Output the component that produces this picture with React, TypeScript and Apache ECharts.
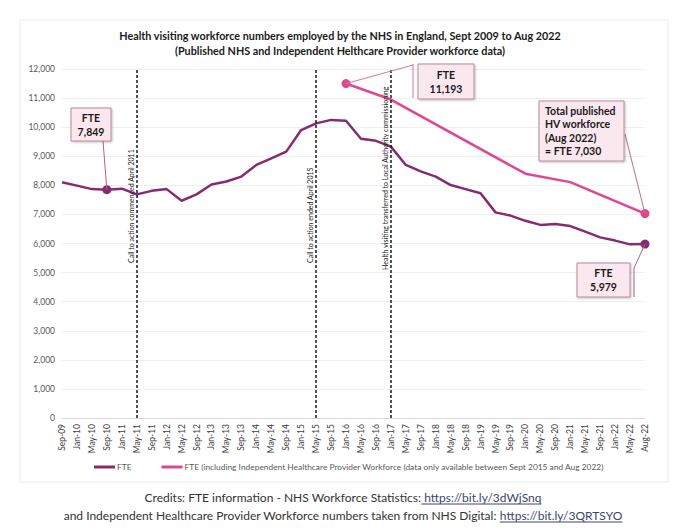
import React, { useEffect, useRef } from "react";
import * as echarts from "echarts";

const categories = [
  "Sep-09", "Jan-10", "May-10", "Sep-10", "Jan-11", "May-11", "Sep-11", "Jan-12", "May-12", "Sep-12",
  "Jan-13", "May-13", "Sep-13", "Jan-14", "May-14", "Sep-14", "Jan-15", "May-15", "Sep-15", "Jan-16",
  "May-16", "Sep-16", "Jan-17", "May-17", "Sep-17", "Jan-18", "May-18", "Sep-18", "Jan-19", "May-19",
  "Sep-19", "Jan-20", "May-20", "Sep-20", "Jan-21", "May-21", "Sep-21", "Jan-22", "May-22", "Aug-22",
];

const fteValues = [
  8105, 7990, 7870, 7849, 7885, 7690, 7810, 7870, 7470, 7690,
  8030, 8130, 8300, 8700, 8930, 9160, 9900, 10130, 10250, 10220,
  9600, 9530, 9330, 8700, 8480, 8300, 8010, 7870, 7730, 7070,
  6960, 6780, 6640, 6670, 6600, 6410, 6210, 6100, 5970, 5979,
];

const fteIncIndependent: (number | null)[] = [
  null, null, null, null, null, null, null, null, null, null,
  null, null, null, null, null, null, null, null, null, 11500,
  null, null, 10950, null, null, null, null, null, null, null,
  null, 8400, null, null, 8110, null, null, null, null, 7030,
];

const fteMarked = [3, 39];
const incMarked = [19, 39];

const events = [
  { cat: "May-11", label: "Call to action commenced April 2011", at: 5330 },
  { cat: "May-15", label: "Call to action ended April 2015", at: 5330 },
  { cat: "Jan-17", label: "Health visiting transferred to Local Authority commissioning", at: 5090 },
];

const titleLines = [
  "Health visiting workforce numbers employed by the NHS in England, Sept 2009 to Aug 2022",
  "(Published NHS and Independent Helthcare Provider workforce data)",
];

const seriesNames = [
  "FTE",
  "FTE (including Independent Healthcare Provider Workforce (data only available between Sept 2015 and Aug 2022)",
];

const credits = [
  ["Credits: FTE information - NHS Workforce Statistics:", " https://bit.ly/3dWjSnq"],
  ["and Independent Healthcare Provider Workforce numbers taken from NHS Digital: ", "https://bit.ly/3QRTSYO"],
];

const PURPLE = "#862b70";
const PINK = "#e0478d";
const FONT = "Lato";

function measure(text: string, font: string): number {
  const c = document.createElement("canvas").getContext("2d");
  if (!c) return text.length * 6;
  c.font = font;
  return c.measureText(text).width;
}

export default function App() {
  const ref = useRef<HTMLDivElement>(null);
  useEffect(() => {
    document.body.style.margin = "0";
    if (!ref.current) return;
    const chart = echarts.init(ref.current, undefined, { renderer: "svg" });

    const purpleData = fteValues.map((v, i) =>
      fteMarked.includes(i) ? { value: v, symbol: "circle", symbolSize: 9 } : v
    );
    const pinkData = fteIncIndependent.map((v, i) =>
      incMarked.includes(i) && v != null ? { value: v, symbol: "circle", symbolSize: 9 } : v
    );

    chart.setOption({
      animation: false,
      backgroundColor: "#ffffff",
      textStyle: { fontFamily: FONT },
      grid: { left: 62, right: 35, top: 69, bottom: 113, containLabel: false },
      legend: {
        data: seriesNames,
        left: 89,
        top: 458,
        icon: "rect",
        itemWidth: 21,
        itemHeight: 3,
        itemGap: 30,
        textStyle: { fontSize: 8.4, color: "#595959", fontFamily: FONT, padding: [0, 0, 0, -3] },
      },
      xAxis: {
        type: "category",
        data: categories,
        boundaryGap: false,
        axisLine: { lineStyle: { color: "#d9d9d9" } },
        axisTick: { show: false },
        splitLine: { show: false },
        axisLabel: { rotate: 90, interval: 0, fontSize: 8.5, color: "#404040", margin: 6, fontFamily: FONT },
      },
      yAxis: {
        type: "value",
        min: 0,
        max: 12000,
        interval: 1000,
        axisLine: { show: false },
        axisTick: { show: false },
        splitLine: { lineStyle: { color: "#efefef" } },
        axisLabel: {
          fontSize: 8.5,
          color: "#595959",
          margin: 7,
          fontFamily: FONT,
          formatter: (v: number) => v.toLocaleString("en-GB"),
        },
      },
      series: [
        {
          name: seriesNames[0],
          type: "line",
          data: purpleData,
          symbol: "none",
          lineStyle: { color: PURPLE, width: 2.5 },
          itemStyle: { color: PURPLE },
          z: 3,
          markLine: {
            silent: true,
            symbol: ["none", "none"],
            label: { show: false },
            lineStyle: { color: "#1a1a1a", type: [3, 2], width: 1.5 },
            data: events.map((e) => ({ xAxis: e.cat })),
          },
        },
        {
          name: seriesNames[1],
          type: "line",
          data: pinkData,
          connectNulls: true,
          symbol: "none",
          lineStyle: { color: PINK, width: 2.5 },
          itemStyle: { color: PINK },
          z: 4,
        },
      ],
    });

    const px = (cat: string, v: number) =>
      chart.convertToPixel({ gridIndex: 0 }, [cat, v]) as number[];

    const boxStyle = {
      fill: "#fbe8ee",
      stroke: "#b58a9b",
      lineWidth: 1,
      shadowBlur: 2,
      shadowColor: "rgba(0,0,0,0.25)",
      shadowOffsetX: 1,
      shadowOffsetY: 1,
    };
    const boxText = (x: number, y: number, text: string, align = "center") => ({
      type: "text",
      x,
      y,
      style: {
        text,
        fill: "#1a1a1a",
        fontFamily: FONT,
        fontWeight: "bold",
        fontSize: 10.5,
        lineHeight: 13.5,
        align,
        verticalAlign: "middle",
      },
      z: 20,
    });
    const leader = (x1: number, y1: number, x2: number, y2: number, color: string) => ({
      type: "line",
      shape: { x1, y1, x2, y2 },
      style: { stroke: color, lineWidth: 1 },
      z: 15,
    });

    const pFTE1 = px(categories[3], fteValues[3]);
    const pFTE2 = px(categories[39], fteValues[39]);
    const pInc1 = px(categories[19], fteIncIndependent[19] as number);
    const pInc2 = px(categories[39], fteIncIndependent[39] as number);

    const graphic: any[] = [];
    graphic.push({
      type: "rect",
      shape: { x: 20, y: 20, width: 648, height: 462 },
      style: { fill: "none", stroke: "#ececec", lineWidth: 1 },
      silent: true,
      z: -1,
    });
    titleLines.forEach((t, i) => {
      graphic.push({
        type: "text",
        x: 340,
        y: 35 + i * 15,
        style: {
          text: t,
          fill: "#1a1a1a",
          fontFamily: FONT,
          fontWeight: "bold",
          fontSize: 10.8,
          align: "center",
          verticalAlign: "middle",
        },
      });
    });

    events.forEach((e) => {
      const p = px(e.cat, e.at);
      graphic.push({
        type: "text",
        x: p[0] - 2.5,
        y: p[1],
        rotation: Math.PI / 2,
        style: {
          text: e.label,
          fill: "#1a1a1a",
          fontFamily: FONT,
          fontSize: 7,
          align: "left",
          verticalAlign: "bottom",
        },
        z: 10,
      });
    });

    // Callout 1: FTE 7,849
    graphic.push({ type: "rect", shape: { x: 71, y: 108, width: 40, height: 33 }, style: boxStyle, z: 18 });
    graphic.push(boxText(91, 125, "FTE\n7,849"));
    graphic.push(leader(103, 141, pFTE1[0], pFTE1[1], "#a8648b"));

    // Callout 2: FTE 11,193
    graphic.push({ type: "rect", shape: { x: 418, y: 64, width: 56, height: 35 }, style: boxStyle, z: 18 });
    graphic.push(boxText(446, 82, "FTE\n11,193"));
    graphic.push(leader(413, 64, 413, 98, "#d9739a"));
    graphic.push(leader(pInc1[0], pInc1[1], 413, 65, "#d9739a"));

    // Callout 3: Total published
    graphic.push({ type: "rect", shape: { x: 539, y: 101, width: 85, height: 60 }, style: boxStyle, z: 18 });
    graphic.push(boxText(545, 131, "Total published\nHV workforce\n(Aug 2022)\n= FTE 7,030", "left"));
    graphic.push(leader(625, 134, pInc2[0], pInc2[1], "#c8668f"));

    // Callout 4: FTE 5,979
    graphic.push({ type: "rect", shape: { x: 577, y: 263, width: 53, height: 34 }, style: boxStyle, z: 18 });
    graphic.push(boxText(603.5, 280, "FTE\n5,979"));
    graphic.push(leader(634, 268, 634, 297, "#a8648b"));
    graphic.push(leader(634, 268, pFTE2[0], pFTE2[1], "#a8648b"));

    // Credits
    const cSize = 12;
    const cFont = `${cSize}px ${FONT}`;
    credits.forEach((parts, i) => {
      const y = 497 + i * 18;
      const w1 = measure(parts[0], cFont);
      const w2 = measure(parts[1], cFont);
      const x0 = 343 - (w1 + w2) / 2;
      graphic.push({
        type: "text",
        x: x0,
        y,
        style: { text: parts[0], fill: "#333333", fontFamily: FONT, fontSize: cSize, align: "left", verticalAlign: "middle" },
      });
      graphic.push({
        type: "text",
        x: x0 + w1,
        y,
        style: { text: parts[1], fill: "#3a4670", fontFamily: FONT, fontSize: cSize, align: "left", verticalAlign: "middle" },
      });
      graphic.push(leader(x0 + w1, y + 7, x0 + w1 + w2, y + 7, "#3a4670"));
    });

    chart.setOption({ graphic });

    return () => chart.dispose();
  }, []);

  return <div ref={ref} style={{ width: 680, height: 531, position: "absolute", left: 0, top: 0 }} />;
}
